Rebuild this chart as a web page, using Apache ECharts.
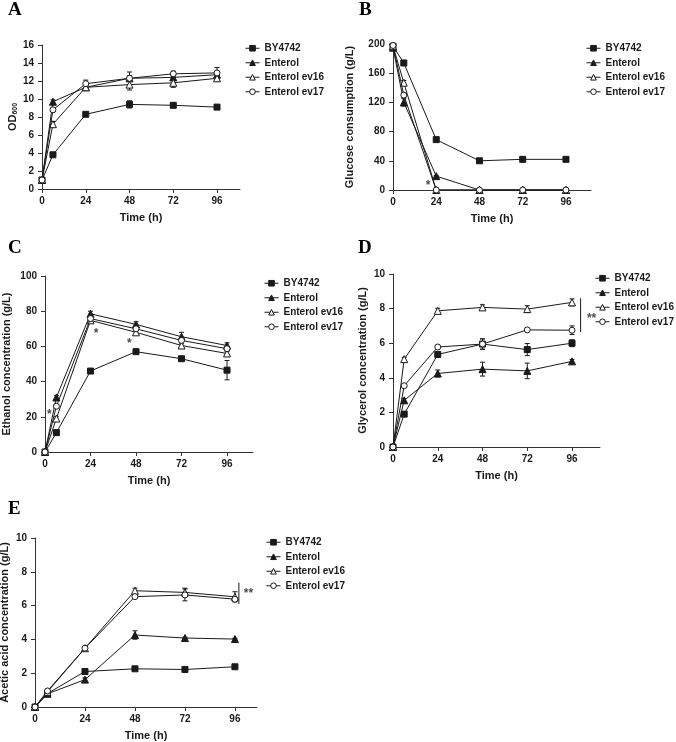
<!DOCTYPE html>
<html>
<head>
<meta charset="utf-8">
<script src="https://cdn.jsdelivr.net/npm/echarts@6.0.0/dist/echarts.min.js"></script>
<style>
  html, body { margin: 0; padding: 0; background: #fff; }
  #chart { width: 676px; height: 742px; }
</style>
</head>
<body>
<div id="chart"></div>
<script>
// sampling times and strains
const hours = [0, 6, 24, 48, 72, 96]
const xTicks = [0, 24, 48, 72, 96]
const strains = ['BY4742', 'Enterol', 'Enterol ev16', 'Enterol ev17']

// A: OD600 (rows follow strains)
const odMean = [
  [1.0, 3.8, 8.3, 9.4, 9.3, 9.1],
  [1.0, 9.7, 11.3, 12.3, 12.4, 12.7],
  [1.0, 7.2, 11.3, 11.6, 11.8, 12.3],
  [1.0, 8.8, 11.7, 12.3, 12.8, 12.9]
]
const odSd = [
  [0, 0.1, 0.1, 0.4, 0.1, 0.2],
  [0, 0.2, 0.2, 0.3, 0.3, 0.3],
  [0, 0.3, 0.2, 0.6, 0.5, 0.3],
  [0, 0.2, 0.4, 0.7, 0.3, 0.6]
]

// B: glucose consumption (g/L)
const glcMean = [
  [197, 174, 69, 40, 42, 42],
  [195, 120, 19, 0, 0, 0],
  [197, 147, 0, 0, 0, 0],
  [198, 130, 0, 0, 0, 0]
]
const glcSd = [
  [0, 3, 1, 2, 2, 2],
  [0, 5, 1, 0, 0, 0],
  [0, 3, 0, 0, 0, 0],
  [0, 3, 0, 0, 0, 0]
]

// C: ethanol (g/L)
const etohMean = [
  [0, 11, 46, 57, 53, 46.5],
  [0, 31, 78.5, 72.5, 65.5, 60.5],
  [0, 19, 74.8, 68, 60.5, 56],
  [0, 26, 75.8, 70, 63.4, 58.7]
]
const etohSd = [
  [0, 0.5, 0.5, 1, 1, 5.5],
  [0, 1, 1.5, 1.5, 2.5, 1.5],
  [0, 1, 1, 1, 1, 1],
  [0, 1, 1, 1, 1, 1]
]

// D: glycerol (g/L)
const glyMean = [
  [0, 1.9, 5.35, 5.95, 5.63, 6.0],
  [0, 2.7, 4.25, 4.5, 4.4, 4.95],
  [0, 5.08, 7.87, 8.07, 7.97, 8.36],
  [0, 3.54, 5.78, 5.95, 6.77, 6.75]
]
const glySd = [
  [0, 0.05, 0.1, 0.3, 0.35, 0.2],
  [0, 0.1, 0.2, 0.4, 0.45, 0.1],
  [0, 0.1, 0.15, 0.15, 0.2, 0.2],
  [0, 0.05, 0.05, 0.3, 0.05, 0.25]
]

// E: acetic acid (g/L)
const acMean = [
  [0, 0.8, 2.1, 2.26, 2.22, 2.38],
  [0, 0.78, 1.62, 4.26, 4.08, 4.02],
  [0, 0.9, 3.48, 6.88, 6.78, 6.52],
  [0, 0.95, 3.48, 6.53, 6.63, 6.38]
]
const acSd = [
  [0, 0, 0.05, 0.05, 0.05, 0.05],
  [0, 0, 0.1, 0.25, 0.05, 0.05],
  [0, 0, 0.05, 0.15, 0.25, 0.3],
  [0, 0, 0.05, 0.1, 0.35, 0.1]
]

// significance marks: [time, value, text]
const starsB = [[19.5, 10, '*']]
const starsC = [[2.3, 23, '*'], [27, 69, '*'], [44.5, 63, '*']]
const starsD = [[106.5, 7.6, '**']]
const starsE = [[102.5, 6.9, '**']]
const bracketD = [[100.6, 6.65], [100.6, 8.6]]
const bracketE = [[97.9, 6.1], [97.9, 7.35]]

const FONT = 'Liberation Sans'
const INK = '#1a1a1a'
const markers = [
  { symbol: 'rect', size: 6, fill: INK },
  { symbol: 'triangle', size: 7, fill: INK },
  { symbol: 'triangle', size: 7, fill: '#fff' },
  { symbol: 'circle', size: 6, fill: '#fff' }
]

const panels = [
  { means: odMean, sds: odSd, grid: [42, 45, 198, 144], xmax: 108.6, ymax: 16, step: 2, name: 'OD{s|600}', gap: 20, legend: [245, 42] },
  { means: glcMean, sds: glcSd, grid: [393, 44, 198, 146], xmax: 109.9, ymax: 200, step: 40, name: 'Glucose consumption (g/L)', gap: 38, legend: [586, 42] },
  { means: etohMean, sds: etohSd, grid: [45, 276, 208, 176], xmax: 109.7, ymax: 100, step: 20, name: 'Ethanol concentration (g/L)', gap: 33, legend: [264, 277] },
  { means: glyMean, sds: glySd, grid: [393, 274, 207, 173], xmax: 111, ymax: 10, step: 2, name: 'Glycerol concentration (g/L)', gap: 25, legend: [595, 272] },
  { means: acMean, sds: acSd, grid: [35, 538, 222, 169], xmax: 106.6, ymax: 10, step: 2, name: 'Acetic acid concentration (g/L)', gap: 25, legend: [266, 536] }
]

const labelStyle = { fontFamily: FONT, fontWeight: 'bold', fontSize: 10, color: INK }
const nameStyle = {
  fontFamily: FONT, fontWeight: 'bold', fontSize: 11, color: INK,
  rich: { s: { fontFamily: FONT, fontWeight: 'bold', fontSize: 7, color: INK, padding: [5, 0, 0, 0] } }
}
const axisLine = { show: true, onZero: false, lineStyle: { color: '#333', width: 1 } }

const grids = []
const xAxes = []
const yAxes = []
const legends = []
const series = []

panels.forEach((p, k) => {
  grids.push({ left: p.grid[0], top: p.grid[1], width: p.grid[2], height: p.grid[3], outerBoundsMode: 'none' })
  xAxes.push({
    type: 'value', gridIndex: k, min: 0, max: p.xmax,
    name: 'Time (h)', nameLocation: 'middle', nameGap: 23, nameTextStyle: nameStyle,
    axisLine,
    axisTick: { show: true, length: 4, customValues: xTicks, lineStyle: { color: '#333' } },
    axisLabel: { customValues: xTicks, margin: 7, ...labelStyle },
    splitLine: { show: false }
  })
  yAxes.push({
    type: 'value', gridIndex: k, min: 0, max: p.ymax, interval: p.step,
    name: p.name, nameLocation: 'middle', nameRotate: 90, nameGap: p.gap, nameTextStyle: nameStyle,
    axisLine,
    axisTick: { show: true, length: 4, lineStyle: { color: '#333' } },
    axisLabel: { margin: 8, ...labelStyle },
    splitLine: { show: false }
  })
  legends.push({
    data: strains, orient: 'vertical', left: p.legend[0], top: p.legend[1], padding: 0,
    itemWidth: 14, itemHeight: 7, itemGap: 2, selectedMode: false,
    itemStyle: { borderWidth: 1 },
    lineStyle: { width: 1, color: INK },
    textStyle: { fontFamily: FONT, fontWeight: 'bold', fontSize: 10, color: INK, lineHeight: 12.5 }
  })

  // error bars
  const bars = []
  p.means.forEach((row, i) => {
    row.forEach((v, j) => {
      if (p.sds[i][j] > 0) bars.push([hours[j], v - p.sds[i][j], v + p.sds[i][j]])
    })
  })
  series.push({
    type: 'custom', xAxisIndex: k, yAxisIndex: k, silent: true, z: 1,
    encode: { x: 0, y: [1, 2] },
    data: bars,
    renderItem(params, api) {
      const hi = api.coord([api.value(0), api.value(2)])
      const lo = api.coord([api.value(0), api.value(1)])
      const w = 2.5
      const st = { stroke: INK, lineWidth: 1 }
      return {
        type: 'group',
        children: [
          { type: 'line', shape: { x1: hi[0], y1: hi[1], x2: lo[0], y2: lo[1] }, style: st },
          { type: 'line', shape: { x1: hi[0] - w, y1: hi[1], x2: hi[0] + w, y2: hi[1] }, style: st },
          { type: 'line', shape: { x1: lo[0] - w, y1: lo[1], x2: lo[0] + w, y2: lo[1] }, style: st }
        ]
      }
    }
  })

  p.means.forEach((row, i) => {
    const m = markers[i]
    series.push({
      name: strains[i], type: 'line', xAxisIndex: k, yAxisIndex: k, z: 3 + i,
      data: hours.map((h, j) => [h, row[j]]),
      symbol: m.symbol, symbolSize: m.size, showAllSymbol: true,
      itemStyle: { color: m.fill, borderColor: INK, borderWidth: 1 },
      lineStyle: { color: INK, width: 1 },
      emphasis: { disabled: true },
      animation: false
    })
  })
})

function textMarks(k, marks) {
  return {
    type: 'scatter', xAxisIndex: k, yAxisIndex: k, silent: true, z: 10,
    symbolSize: 1, itemStyle: { color: 'rgba(0,0,0,0)' },
    data: marks,
    label: {
      show: true, position: 'inside', offset: [0, 3],
      formatter: (d) => d.value[2],
      fontFamily: FONT, fontWeight: 'bold', fontSize: 12, color: INK
    }
  }
}
function bracket(k, pts) {
  return {
    type: 'line', xAxisIndex: k, yAxisIndex: k, silent: true, z: 10,
    data: pts, symbol: 'none', clip: false,
    lineStyle: { color: INK, width: 1 }
  }
}
series.push(textMarks(1, starsB), textMarks(2, starsC), textMarks(3, starsD), textMarks(4, starsE))
series.push(bracket(3, bracketD), bracket(4, bracketE))

const letter = (t, x, y) => ({
  type: 'text', left: x, top: y,
  style: { text: t, font: 'bold 19px "Liberation Serif"', fill: '#000' }
})

const chart = echarts.init(document.getElementById('chart'))
chart.setOption({
  animation: false,
  backgroundColor: '#fff',
  grid: grids,
  xAxis: xAxes,
  yAxis: yAxes,
  legend: legends,
  series,
  graphic: [
    letter('A', 8, 1),
    letter('B', 359, 1),
    letter('C', 8, 239),
    letter('D', 358, 239),
    letter('E', 8, 500)
  ]
})
</script>
</body>
</html>
